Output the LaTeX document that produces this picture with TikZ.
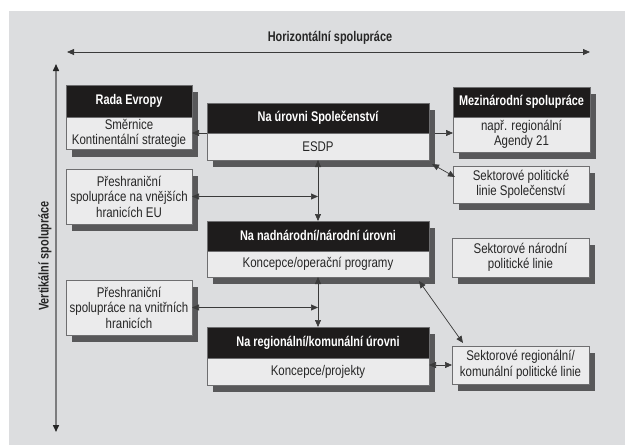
\documentclass[tikz,border=0pt]{standalone}
\usepackage{fontspec}
\setmainfont{Liberation Sans}[FakeStretch=0.82,BoldFeatures={FakeStretch=0.78}]
\usepackage{tikz}
\usetikzlibrary{arrows.meta,calc,shadows}
\definecolor{pozadiSeda}{HTML}{DCDDDF}
\definecolor{hlavickaCerna}{HTML}{1E1C1C}
\definecolor{teloSeda}{HTML}{EBEBEC}
\definecolor{stinSeda}{HTML}{58585A}
\definecolor{ramSeda}{HTML}{6E6E70}
\definecolor{sipkaSeda}{HTML}{3A3A3A}
\definecolor{osaSeda}{HTML}{7C7C7E}

\begin{document}
\begin{tikzpicture}[x=1pt,y=-1pt,
  font=\fontsize{14}{15.5}\selectfont,
  stin/.style={drop shadow={shadow xshift=6pt,shadow yshift=-7pt,fill=stinSeda,opacity=1}},
  hlavicka/.style={stin,rectangle,fill=hlavickaCerna,draw=ramSeda,line width=0.8pt,text=white,
    font=\fontsize{14}{15.5}\selectfont\bfseries,anchor=north west,outer sep=0pt,inner sep=2pt},
  telo/.style={stin,rectangle,fill=teloSeda,draw=ramSeda,line width=0.8pt,text=black!85,
    align=center,anchor=north,outer sep=0pt,inner sep=2pt},
  ramecek/.style={telo,anchor=north west},
  spoj/.style={draw=sipkaSeda,line width=0.7pt,{Triangle[length=7pt,width=6pt]}-{Triangle[length=7pt,width=6pt]}},
  spojJedna/.style={draw=sipkaSeda,line width=0.7pt,-{Triangle[length=7pt,width=6pt]}}]
\useasboundingbox (0,0) rectangle (625,445);
\fill[pozadiSeda] (9,11) rectangle (625,445);

% osy spoluprace
\coordinate (horizL) at (67,52);
\coordinate (horizR) at (590,52);
\coordinate (vertT) at (56,64);
\coordinate (vertB) at (56,432);
\draw[sipkaSeda,line width=0.8pt,{Triangle[length=7pt,width=6pt]}-{Triangle[length=7pt,width=6pt]}] (horizL) -- (horizR);
\draw[osaSeda,line width=1.5pt,{Triangle[length=7pt,width=6pt,color=black!85]}-{Triangle[length=7pt,width=6pt,color=black!85]}] (vertT) -- (vertB);
\node[font=\fontsize{14}{15.5}\selectfont\bfseries,text=black!85] (horizText) at (330,38) {Horizontální spolupráce};
\node[font=\fontsize{14}{15.5}\selectfont\bfseries,text=black!85,rotate=90] (vertText) at (45,256) {Vertikální spolupráce};

% urovne
\node[hlavicka,minimum width=126pt,minimum height=32pt] (rada head) at (66,85) {Rada Evropy};
\node[telo,minimum width=126pt,minimum height=32pt] (rada body) at (rada head.south) {Směrnice\\Kontinentální strategie};
\node[hlavicka,minimum width=222pt,minimum height=30pt] (spol head) at (207,103) {Na úrovni Společenství};
\node[telo,minimum width=222pt,minimum height=27pt] (spol body) at (spol head.south) {ESDP};
\node[hlavicka,minimum width=137pt,minimum height=30pt] (mezi head) at (453,87) {Mezinárodní spolupráce};
\node[telo,minimum width=137pt,minimum height=35pt] (mezi body) at (mezi head.south) {např. regionální\\Agendy 21};
\node[ramecek,minimum width=126pt,minimum height=55pt] (vnejsi) at (66,169) {Přeshraniční\\spolupráce na vnějších\\hranicích EU};
\node[ramecek,minimum width=136pt,minimum height=37pt] (sekSpol) at (453,166) {Sektorové politické\\linie Společenství};
\node[hlavicka,minimum width=222pt,minimum height=30pt] (nadn head) at (207,221) {Na nadnárodní/národní úrovni};
\node[telo,minimum width=222pt,minimum height=26pt] (nadn body) at (nadn head.south) {Koncepce/operační programy};
\node[ramecek,minimum width=137pt,minimum height=39pt] (sekNar) at (452,238) {Sektorové národní\\politické linie};
\node[ramecek,minimum width=126pt,minimum height=55pt] (vnitrni) at (66,280) {Přeshraniční\\spolupráce na vnitřních\\hranicích};
\node[hlavicka,minimum width=222pt,minimum height=31pt] (region head) at (207,327) {Na regionální/komunální úrovni};
\node[telo,minimum width=222pt,minimum height=27pt] (region body) at (region head.south) {Koncepce/projekty};
\node[ramecek,minimum width=137pt,minimum height=38pt] (sekReg) at (452,346) {Sektorové regionální/\\komunální politické linie};

% vazby
\draw[spojJedna] (spol head.south west) -- (rada body.east |- spol head.south west);
\draw[spojJedna] ($(spol head.south east)+(6,0)$) -- (mezi body.west |- spol head.south east);
\draw[spoj] ($(spol body.south east)+(3,4)$) -- ($(sekSpol.north west)+(2,11)$);
\draw[spoj] (spol body.south) -- (nadn head.north);
\draw[spoj] (vnejsi.east) -- (vnejsi.east -| spol body.south);
\draw[spoj] (nadn body.south) -- (region head.north);
\draw[spoj] (vnitrni.east) -- (vnitrni.east -| nadn body.south);
\draw[spoj] ($(nadn body.south east)+(-10,4)$) -- ($(sekReg.north west)+(11,-3)$);
\draw[spoj] (sekReg.west) -- (sekReg.west -| region body.east);
\end{tikzpicture}
\end{document}
